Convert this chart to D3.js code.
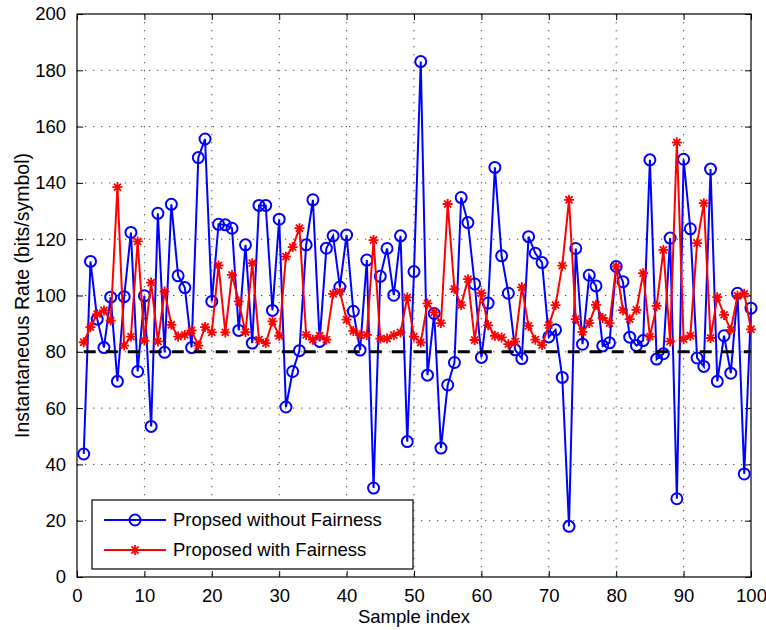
<!DOCTYPE html>
<html>
<head>
<meta charset="utf-8">
<script src="https://cdn.jsdelivr.net/npm/d3@7"></script>
<style>
	body { margin: 0; background: #fff; }
	text { font-family: "Liberation Sans", Arial, sans-serif; fill: #000; }
</style>
</head>
<body>
<svg class="chart"></svg>
<script>

// Values (sample index 1..100):

var withoutFairness = [43.7, 112.1, 91.6, 81.5, 99.4, 69.5, 99.6, 122.4, 73, 99.9,
	53.5, 129.2, 79.8, 132.4, 107, 102.8, 81.5, 149, 155.6, 97.9,
	125.3, 125.1, 123.9, 87.6, 118, 83.1, 132, 132, 94.7, 127.1,
	60.4, 73, 80.4, 118, 134, 83.7, 116.8, 121.2, 103, 121.5,
	94.4, 80.6, 112.6, 31.6, 106.8, 116.7, 100.1, 121.2, 48.1, 108.5,
	183.1, 71.7, 93.6, 45.8, 68.2, 76.2, 134.8, 125.9, 104.1, 78,
	97.3, 145.5, 114.1, 100.8, 80.7, 77.6, 120.9, 115, 111.7, 85.3,
	87.8, 70.9, 18, 116.7, 82.7, 107.2, 103.4, 82.1, 83.2, 110.3,
	104.9, 85.2, 82.2, 84, 148.2, 77.4, 79.3, 120.4, 27.8, 148.4,
	123.7, 77.8, 74.8, 144.9, 69.5, 85.7, 72.4, 100.8, 36.6, 95.5];

var withFairness = [83.4, 88.8, 93.4, 94.7, 91.1, 138.5, 82.2, 85.4, 119.2, 84,
	104.6, 83.7, 101.4, 89.6, 85.4, 86, 87.6, 82.2, 88.8, 86.9,
	110.7, 86.9, 107.3, 97.9, 87, 111.5, 84.3, 83.1, 90.8, 85.7,
	113.8, 117.2, 123.9, 86, 84.3, 85.7, 84.3, 100.6, 101.4, 91.4,
	87.4, 85.9, 86, 119.7, 84.7, 84.7, 85.9, 86.9, 99.3, 85.4,
	83.3, 97.2, 94, 90.2, 132.5, 102.3, 96.6, 105.8, 84.2, 100.8,
	89.4, 85.7, 85.1, 82.7, 83.6, 102.9, 89.2, 84.3, 82.4, 89.5,
	96.6, 110.6, 134, 91.6, 87.1, 90.2, 96.7, 92, 90.2, 110.3,
	94.8, 91.6, 94.9, 107.9, 85.4, 96.3, 116.2, 83.7, 154.4, 84.5,
	85.7, 118.6, 132.8, 84.9, 99.4, 93.1, 87.8, 99.9, 100.6, 88];

var threshold = 80;
var xTicks = [0, 10, 20, 30, 40, 50, 60, 70, 80, 90, 100];
var yTicks = [0, 20, 40, 60, 80, 100, 120, 140, 160, 180, 200];
var seriesNames = ["Propsed without Fairness", "Proposed with Fairness"];

// Basic dimensions:

var margin = {top: 14, right: 15, bottom: 53, left: 77};

var width = 766 - margin.left - margin.right,
	height = 630 - margin.top - margin.bottom,
	tickLen = 6,
	circleRadius = 5.5,
	starRadius = 5;

var svg = d3.select(".chart")
	.attr("width", 766)
	.attr("height", 630);

var chart = svg.append("g")
	.attr("transform", "translate(" + margin.left + "," + margin.top + ")");

var x = d3.scaleLinear().domain([0, 100]).range([0, width]);
var y = d3.scaleLinear().domain([0, 200]).range([height, 0]);

// Dotted grid:

chart.append("g")
	.selectAll("line")
	.data(xTicks.slice(1, -1))
	.enter().append("line")
	.attr("x1", function(d) { return x(d); })
	.attr("x2", function(d) { return x(d); })
	.attr("y1", 0)
	.attr("y2", height)
	.style("stroke", "#444")
	.style("stroke-dasharray", "1.3,6.7");

chart.append("g")
	.selectAll("line")
	.data(yTicks.slice(1, -1))
	.enter().append("line")
	.attr("y1", function(d) { return y(d); })
	.attr("y2", function(d) { return y(d); })
	.attr("x1", 0)
	.attr("x2", width)
	.style("stroke", "#444")
	.style("stroke-dasharray", "1.3,6.7");

// Axes with inward ticks on all four sides (box on):

function styleAxis(g) {
	g.select(".domain").remove();
	g.selectAll(".tick line").style("stroke", "#000");
	g.selectAll(".tick text")
		.style("font-size", "18.5px")
		.style("font-family", "'Liberation Sans', Arial, sans-serif");
}

chart.append("g")
	.attr("transform", "translate(0," + height + ")")
	.call(d3.axisBottom(x).tickValues(xTicks).tickSizeInner(-tickLen).tickSizeOuter(0).tickPadding(12))
	.call(styleAxis);

chart.append("g")
	.call(d3.axisLeft(y).tickValues(yTicks).tickSizeInner(-tickLen).tickSizeOuter(0).tickPadding(11))
	.call(styleAxis);

chart.append("g")
	.call(d3.axisTop(x).tickValues(xTicks).tickSizeInner(-tickLen).tickSizeOuter(0).tickFormat(""))
	.call(styleAxis);

chart.append("g")
	.attr("transform", "translate(" + width + ",0)")
	.call(d3.axisRight(y).tickValues(yTicks).tickSizeInner(-tickLen).tickSizeOuter(0).tickFormat(""))
	.call(styleAxis);

chart.append("rect")
	.attr("width", width)
	.attr("height", height)
	.style("fill", "none")
	.style("stroke", "#000")
	.style("stroke-width", 1.2);

// Series:

var line = d3.line()
	.x(function(d, i) { return x(i + 1); })
	.y(function(d) { return y(d); });

var starPath = function(r) {
	var k = r * Math.SQRT1_2;
	return "M" + (-r) + ",0H" + r + "M0," + (-r) + "V" + r +
		"M" + (-k) + "," + (-k) + "L" + k + "," + k +
		"M" + (-k) + "," + k + "L" + k + "," + (-k);
};

chart.append("path")
	.datum(withoutFairness)
	.attr("d", line)
	.style("fill", "none")
	.style("stroke", "#0000ff")
	.style("stroke-width", 2);

chart.selectAll(".circ")
	.data(withoutFairness)
	.enter().append("circle")
	.attr("class", "circ")
	.attr("cx", function(d, i) { return x(i + 1); })
	.attr("cy", function(d) { return y(d); })
	.attr("r", circleRadius)
	.style("fill", "none")
	.style("stroke", "#0000ff")
	.style("stroke-width", 2);

chart.append("path")
	.datum(withFairness)
	.attr("d", line)
	.style("fill", "none")
	.style("stroke", "#ff0000")
	.style("stroke-width", 2);

chart.selectAll(".star")
	.data(withFairness)
	.enter().append("path")
	.attr("class", "star")
	.attr("transform", function(d, i) { return "translate(" + x(i + 1) + "," + y(d) + ")"; })
	.attr("d", starPath(starRadius))
	.style("fill", "none")
	.style("stroke", "#ff0000")
	.style("stroke-width", 1.8);

// Threshold line:

chart.append("line")
	.attr("x1", x(1))
	.attr("x2", x(100))
	.attr("y1", y(threshold))
	.attr("y2", y(threshold))
	.style("stroke", "#000")
	.style("stroke-width", 3)
	.style("stroke-dasharray", "12,10");

// Axis labels:

svg.append("text")
	.attr("x", margin.left + width / 2)
	.attr("y", 623)
	.style("text-anchor", "middle")
	.style("font-size", "18.5px")
	.text("Sample index");

svg.append("text")
	.attr("transform", "translate(29," + (margin.top + height / 2) + ") rotate(-90)")
	.style("text-anchor", "middle")
	.style("font-size", "19.5px")
	.text("Instantaneous Rate (bits/symbol)");

// Legend:

var legend = chart.append("g")
	.attr("transform", "translate(" + (92 - margin.left) + "," + (500 - margin.top) + ")");

legend.append("rect")
	.attr("width", 321)
	.attr("height", 69)
	.style("fill", "#fff")
	.style("stroke", "#000")
	.style("stroke-width", 1.2);

var items = legend.selectAll(".item")
	.data(seriesNames)
	.enter().append("g")
	.attr("transform", function(d, i) { return "translate(0," + (20 + i * 30) + ")"; });

items.append("line")
	.attr("x1", 12)
	.attr("x2", 74)
	.style("stroke", function(d, i) { return i == 0 ? "#0000ff" : "#ff0000"; })
	.style("stroke-width", 2);

items.filter(function(d, i) { return i == 0; })
	.append("circle")
	.attr("cx", 43)
	.attr("r", circleRadius)
	.style("fill", "none")
	.style("stroke", "#0000ff")
	.style("stroke-width", 2);

items.filter(function(d, i) { return i == 1; })
	.append("path")
	.attr("transform", "translate(43,0)")
	.attr("d", starPath(starRadius))
	.style("fill", "none")
	.style("stroke", "#ff0000")
	.style("stroke-width", 1.8);

items.append("text")
	.attr("x", 81)
	.attr("dy", "0.35em")
	.style("font-size", "18.5px")
	.text(function(d) { return d; });

</script>
</body>
</html>
